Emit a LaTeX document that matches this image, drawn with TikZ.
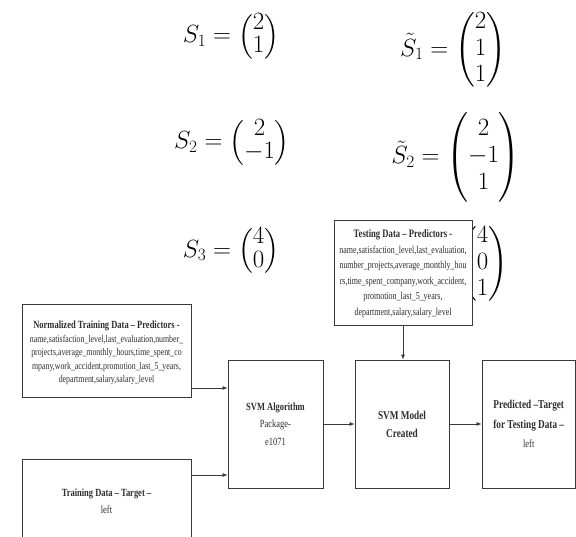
\documentclass[tikz,border=0pt]{standalone}
\usepackage{amsmath}
\usepackage{fontspec}
\setmainfont{Liberation Serif}
\newfontfamily\cond[FakeStretch=0.77]{Liberation Serif}
\newfontfamily\condb[FakeStretch=0.76]{Liberation Serif}
\usetikzlibrary{arrows.meta}
\definecolor{ink}{HTML}{2E2E2E}
\definecolor{edge}{HTML}{3A3A3A}
\tikzset{
  box/.style={draw=edge, line width=0.9pt, fill=white, inner sep=0pt},
  boxtext/.style={text=ink, align=center, inner sep=0pt},
  mathlbl/.style={text=black, inner sep=0pt},
  arr/.style={draw=edge, line width=0.7pt, -{Latex[length=5pt,width=4pt]}}
}
\begin{document}
\begin{tikzpicture}[x=1pt,y=-1pt]
\useasboundingbox (0,0) rectangle (576,537);
\clip (0,0) rectangle (576,537);
\fill[white] (0,0) rectangle (576,537);
% math
\node[mathlbl, font=\fontsize{24}{23.5}\selectfont] (s1) at (231,36.5) {$S_1 = \begin{pmatrix}2\\1\end{pmatrix}$};
\node[mathlbl, font=\fontsize{24}{26.5}\selectfont] (t1) at (453,50) {$\tilde{S}_1 = \begin{pmatrix}2\\1\\1\end{pmatrix}$};
\node[mathlbl, font=\fontsize{24}{23.5}\selectfont] (s2) at (232,142.5) {$S_2 = \begin{pmatrix}2\\-1\end{pmatrix}$};
\node[mathlbl, font=\fontsize{24}{27}\selectfont] (t2) at (456,157.5) {$\tilde{S}_2 = \begin{pmatrix}2\\-1\\1\end{pmatrix}$};
\node[mathlbl, font=\fontsize{24}{23.5}\selectfont] (s3) at (231,251) {$S_3 = \begin{pmatrix}4\\0\end{pmatrix}$};
\node[mathlbl, font=\fontsize{24}{26.5}\selectfont] (t3) at (455,264) {$\tilde{S}_3 = \begin{pmatrix}4\\0\\1\end{pmatrix}$};
% normalized training data box
\node[box, minimum width=169pt, minimum height=93pt] (norm) at (106.5,350.5) {};
\node[boxtext, font=\cond\fontsize{10.2}{13.5}\selectfont] (normtxt) at (106.5,353)
 {\textbf{\fontsize{11}{13.5}\selectfont Normalized Training Data – Predictors -}\\
  name,satisfaction\_level,last\_evaluation,number\_\\
  projects,average\_monthly\_hours,time\_spent\_co\\
  mpany,work\_accident,promotion\_last\_5\_years,\\
  department,salary,salary\_level};
% training target box
\node[box, minimum width=169pt, minimum height=92pt] (targ) at (106.5,505) {};
\node[boxtext, font=\cond\fontsize{11}{17}\selectfont] (targtxt) at (106.5,501.5)
 {\textbf{Training Data – Target –}\\ left};
% SVM algorithm
\node[box, minimum width=95pt, minimum height=128pt] (alg) at (275.5,424) {};
\node[boxtext, font=\cond\fontsize{11}{17.5}\selectfont] (algtxt) at (alg.center)
 {\textbf{SVM Algorithm}\\ Package-\\ e1071};
% SVM model
\node[box, minimum width=94pt, minimum height=128pt] (model) at (402,424) {};
\node[boxtext, font=\cond\fontsize{12}{18}\selectfont] (modeltxt) at (model.center)
 {\textbf{SVM Model}\\ \textbf{Created}};
% predicted
\node[box, minimum width=93.5pt, minimum height=128pt] (pred) at (528.75,424) {};
\node[boxtext, font=\cond\fontsize{12}{19.5}\selectfont] (predtxt) at (pred.center)
 {\textbf{Predicted –Target}\\ \textbf{for Testing Data –}\\ {\fontsize{11}{19.5}\selectfont left}};
% testing data box (covers part of the last vector)
\node[box, fill=white, minimum width=138pt, minimum height=105pt] (test) at (403,272.5) {};
\node[boxtext, font=\condb\fontsize{10.5}{15.5}\selectfont] (testtxt) at (403,273.5)
 {\textbf{\fontsize{11.4}{15.5}\selectfont Testing Data – Predictors -}\\
  name,satisfaction\_level,last\_evaluation,\\
  number\_projects,average\_monthly\_hou\\
  rs,time\_spent\_company,work\_accident,\\
  promotion\_last\_5\_years,\\
  department,salary,salary\_level};
% connectors
\coordinate (n1) at ([yshift=-37.5pt]norm.east);
\coordinate (g1) at ([yshift=30pt]targ.east);
\draw[arr] (n1) -- (n1 -| alg.west);
\draw[arr] (g1) -- (g1 -| alg.west);
\draw[arr] (alg.east) -- (model.west);
\draw[arr] (model.east) -- (pred.west);
\draw[arr] (test.south) -- (test.south |- model.north);
\end{tikzpicture}
\end{document}
